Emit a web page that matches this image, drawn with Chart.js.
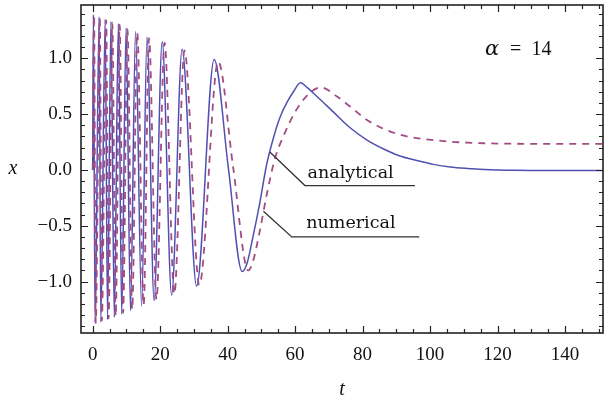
<!DOCTYPE html>
<html>
<head>
<meta charset="utf-8">
<script src="https://cdn.jsdelivr.net/npm/chart.js@4.4.1/dist/chart.umd.min.js"></script>
<style>
    html, body { margin: 0; padding: 0; background: #fff; }
</style>
</head>
<body>
<canvas id="solutionChart" width="604" height="404"></canvas>
<script>
// analytical solution (solid blue)
const tAnalytical = [0, 0.2, 0.7, 1.9, 2.4, 3.7, 4.4, 5.4, 6.4, 7.6, 8.6, 9.9, 11.2, 12.7, 14.5, 16.1, 18.2, 20.6, 23.4, 26.5, 30.8, 36.0, 40.2, 44.3, 45.7, 47.5, 49.5, 51.5, 53.5, 55.5, 57.5, 59.5, 61.6, 63.5, 66.4, 71.3, 76.2, 81.2, 86.1, 91.1, 96, 101, 106, 111, 116, 125, 135, 151];
const xAnalytical = [0, 1.39, -1.37, 1.37, -1.36, 1.35, -1.34, 1.33, -1.32, 1.31, -1.29, 1.27, -1.26, 1.24, -1.22, 1.19, -1.17, 1.15, -1.12, 1.08, -1.04, 0.99, 0.02, -0.91, -0.84, -0.6, -0.3, 0.04, 0.28, 0.47, 0.60, 0.70, 0.78, 0.74, 0.66, 0.52, 0.38, 0.27, 0.19, 0.125, 0.085, 0.05, 0.027, 0.014, 0.005, -0.003, -0.006, -0.006];

// numerical solution (dashed purple)
const tNumerical = [0, 0.4, 0.9, 2.1, 2.7, 4.0, 4.7, 5.8, 6.8, 8.0, 9.0, 10.3, 11.7, 13.2, 15.1, 16.7, 18.9, 21.3, 24.2, 27.2, 31.6, 37.2, 41.6, 46.1, 47.5, 49.5, 51.6, 54.0, 56.5, 60.4, 64.4, 67.6, 72.3, 76.2, 81.2, 86.1, 91.1, 96, 101.9, 106, 111, 116, 125, 140, 151];
const xNumerical = [0, 1.38, -1.37, 1.36, -1.35, 1.34, -1.33, 1.32, -1.31, 1.30, -1.28, 1.26, -1.25, 1.23, -1.21, 1.18, -1.16, 1.14, -1.11, 1.07, -1.03, 0.97, 0.03, -0.90, -0.82, -0.55, -0.22, 0.10, 0.30, 0.54, 0.69, 0.74, 0.66, 0.57, 0.45, 0.37, 0.315, 0.285, 0.265, 0.253, 0.245, 0.239, 0.235, 0.233, 0.233];

const xTicks = [0, 20, 40, 60, 80, 100, 120, 140];
const yTicks = [-1.0, -0.5, 0.0, 0.5, 1.0];

const SERIF = "'Liberation Serif', 'Times New Roman', serif";

// leader lines + labels, in data coordinates
const notes = [
    { text: "analytical", from: [52.5, 0.16], elbow: [62.9, -0.14], end: [95.5, -0.14], label: [63.7, -0.072] },
    { text: "numerical", from: [50.6, -0.37], elbow: [59.0, -0.6], end: [96.8, -0.6], label: [63.3, -0.522] },
];

function toPoints(ts, xs) {
    return ts.map((t, i) => ({ x: t, y: xs[i] }));
}

// Mathematica-like frame with inward ticks on all four sides
const framePlugin = {
    id: "frame",
    afterDraw(chart) {
        const { ctx, chartArea: a } = chart;
        const xs = chart.scales.x;
        const ys = chart.scales.y;
        ctx.save();
        ctx.strokeStyle = "#222";
        ctx.lineWidth = 1.6;
        ctx.strokeRect(a.left, a.top, a.right - a.left, a.bottom - a.top);

        ctx.lineWidth = 1.2;
        ctx.beginPath();
        for (let v = 0; v <= 150; v += 5) {
            const px = Math.round(xs.getPixelForValue(v)) + 0.5;
            const len = v % 20 === 0 ? 7 : 4;
            ctx.moveTo(px, a.bottom); ctx.lineTo(px, a.bottom - len);
            ctx.moveTo(px, a.top); ctx.lineTo(px, a.top + len);
        }
        for (let i = -14; i <= 14; i++) {
            const py = Math.round(ys.getPixelForValue(i / 10)) + 0.5;
            const len = i % 5 === 0 ? 7 : 4;
            ctx.moveTo(a.left, py); ctx.lineTo(a.left + len, py);
            ctx.moveTo(a.right, py); ctx.lineTo(a.right - len, py);
        }
        ctx.stroke();

        // leader lines
        ctx.strokeStyle = "#333";
        ctx.lineWidth = 1.3;
        ctx.fillStyle = "#111";
        ctx.font = "17.5px 'DejaVu Serif', serif";
        ctx.textAlign = "left";
        ctx.textBaseline = "alphabetic";
        notes.forEach((n) => {
            ctx.beginPath();
            ctx.moveTo(xs.getPixelForValue(n.from[0]), ys.getPixelForValue(n.from[1]));
            ctx.lineTo(xs.getPixelForValue(n.elbow[0]), ys.getPixelForValue(n.elbow[1]));
            ctx.lineTo(xs.getPixelForValue(n.end[0]), ys.getPixelForValue(n.end[1]));
            ctx.stroke();
            ctx.fillText(n.text, xs.getPixelForValue(n.label[0]), ys.getPixelForValue(n.label[1]));
        });

        // alpha = 14
        const ax = xs.getPixelForValue(116.3);
        const ay = ys.getPixelForValue(1.03);
        ctx.font = "italic 21px 'DejaVu Serif', serif";
        ctx.fillText("\u03B1", ax, ay);
        ctx.font = "20px " + SERIF;
        ctx.fillText("=", ax + 25, ay);
        ctx.fillText("14", ax + 46.5, ay);

        // y axis title, upright
        ctx.font = "italic 20px " + SERIF;
        ctx.textAlign = "center";
        ctx.textBaseline = "middle";
        ctx.fillText("x", 13, ys.getPixelForValue(0) - 1);
        ctx.restore();
    },
};

let solutionChart;

function plotSolutionChart() {
    let ctx = document.getElementById("solutionChart").getContext("2d");
    solutionChart = new Chart(ctx, {
        type: "line",
        data: {
            datasets: [
                {
                    label: "numerical",
                    data: toPoints(tNumerical, xNumerical),
                    borderColor: "#a24c84", // purple dashed
                    borderWidth: 1.8,
                    borderDash: [7, 6],
                    pointRadius: 0,
                    cubicInterpolationMode: "monotone",
                    order: 0,
                },
                {
                    label: "analytical",
                    data: toPoints(tAnalytical, xAnalytical),
                    borderColor: "#5050b2", // blue solid
                    borderWidth: 1.5,
                    pointRadius: 0,
                    cubicInterpolationMode: "monotone",
                    order: 1,
                },
            ],
        },
        options: {
            responsive: false,
            animation: false,
            layout: { padding: { top: 5, right: 1, left: 0, bottom: 0 } },
            plugins: {
                legend: { display: false },
                tooltip: { enabled: false },
            },
            scales: {
                x: {
                    type: "linear",
                    min: -3.47,
                    max: 151.26,
                    grid: { display: false, drawTicks: false },
                    border: { display: false },
                    afterBuildTicks: (s) => { s.ticks = xTicks.map((v) => ({ value: v })); },
                    afterFit: (s) => { s.height = 71; s.paddingLeft = 0; s.paddingRight = 0; },
                    ticks: {
                        autoSkip: false,
                        maxRotation: 0,
                        padding: 11,
                        color: "#111",
                        font: { family: SERIF, size: 19 },
                        callback: (v) => String(v),
                    },
                    title: {
                        display: true,
                        text: "t",
                        color: "#111",
                        font: { family: SERIF, size: 20, style: "italic" },
                        padding: { top: 0, bottom: 2 },
                    },
                },
                y: {
                    min: -1.46,
                    max: 1.477,
                    grid: { display: false, drawTicks: false },
                    border: { display: false },
                    afterBuildTicks: (s) => { s.ticks = yTicks.map((v) => ({ value: v })); },
                    afterFit: (s) => { s.width = 81; s.paddingTop = 0; s.paddingBottom = 0; },
                    ticks: {
                        padding: 9,
                        color: "#111",
                        font: { family: SERIF, size: 19 },
                        callback: (v) => (v < 0 ? "\u2212" : "") + Math.abs(v).toFixed(1),
                    },
                },
            },
        },
        plugins: [framePlugin],
    });
}

plotSolutionChart();
</script>
</body>
</html>
